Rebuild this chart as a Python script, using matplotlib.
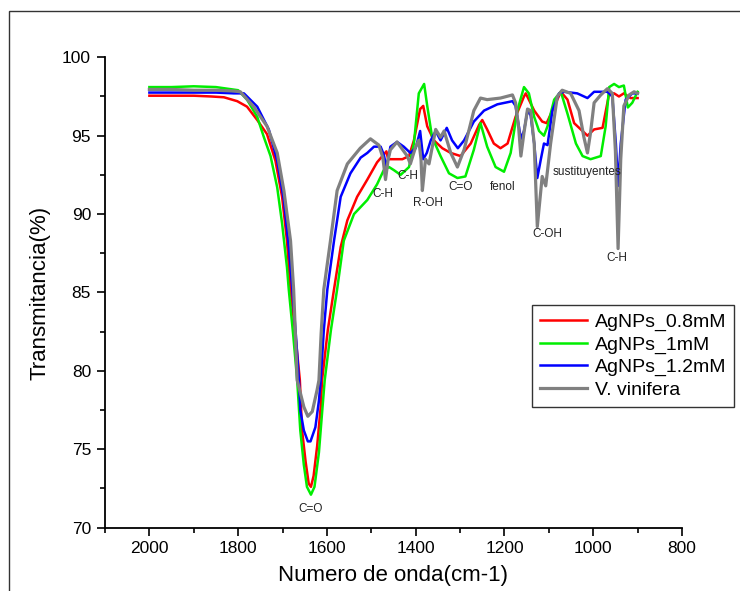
import matplotlib
matplotlib.use("Agg")
import matplotlib.pyplot as plt
from matplotlib.patches import Rectangle
from matplotlib.ticker import MultipleLocator

plt.rcParams['font.family'] = ['Liberation Sans', 'DejaVu Sans']

# FTIR spectra: wavenumber (cm-1) and transmittance (%)
wn_08 = [2000, 1950, 1900, 1860, 1832, 1802, 1780, 1757, 1735, 1716, 1701, 1690,
         1682, 1671, 1661, 1656, 1648, 1641, 1636, 1630, 1622, 1614, 1611, 1598, 1584, 1569,
         1554, 1532, 1509, 1487, 1472, 1466, 1462, 1449, 1430, 1415, 1404, 1390,
         1383, 1374, 1359, 1340, 1321, 1299, 1276, 1257, 1250, 1239, 1224, 1209,
         1193, 1175, 1156, 1152, 1133, 1115, 1105, 1092, 1073, 1058, 1043, 1028,
         1013, 998, 979, 964, 953, 942, 931, 916, 900]
t_08 = [97.55, 97.55, 97.55, 97.5, 97.45, 97.2, 96.85, 96.0, 95.1, 93.4, 91.1, 88.3,
        85.2, 82.3, 79.4, 76.2, 74.2, 72.8, 72.6, 73.3, 75.2, 77.7, 79.4, 82.6, 85.2, 87.9,
        89.6, 91.1, 92.2, 93.3, 93.8, 94.0, 93.5, 93.5, 93.5, 93.7, 94.7, 96.7,
        96.9, 95.6, 94.7, 94.2, 93.9, 93.7, 94.5, 95.7, 96.0, 95.4, 94.5, 94.2,
        94.5, 96.2, 97.5, 97.7, 96.6, 95.9, 95.8, 96.6, 97.8, 97.3, 95.8, 95.4,
        95.0, 95.4, 95.5, 97.7, 97.7, 97.5, 97.7, 97.4, 97.4]

wn_1 = [2000, 1950, 1900, 1850, 1800, 1780, 1757, 1742, 1727, 1712, 1701, 1690,
        1686, 1676, 1667, 1660, 1652, 1645, 1636, 1628, 1618, 1611, 1605, 1591, 1577, 1562,
        1539, 1509, 1487, 1472, 1460, 1449, 1434, 1415, 1404, 1393, 1381, 1374,
        1363, 1344, 1325, 1306, 1288, 1269, 1254, 1239, 1220, 1201, 1186, 1171,
        1156, 1145, 1133, 1122, 1111, 1103, 1088, 1073, 1058, 1039, 1024, 1006,
        983, 972, 964, 953, 942, 931, 922, 912, 900]
t_1 = [98.1, 98.1, 98.15, 98.1, 97.9, 97.3, 96.2, 94.9, 93.7, 91.7, 89.4, 86.6,
       85.2, 82.3, 79.4, 76.2, 74.0, 72.6, 72.1, 72.6, 74.8, 77.3, 79.4, 82.6, 85.2, 88.3,
       90.0, 90.9, 91.9, 92.8, 93.0, 92.8, 92.5, 93.0, 94.5, 97.7, 98.3, 96.9,
       94.9, 93.7, 92.6, 92.3, 92.4, 94.1, 95.8, 94.3, 93.0, 92.7, 93.9, 96.6,
       98.1, 97.7, 96.2, 95.3, 95.0, 95.6, 97.3, 97.8, 96.4, 94.5, 93.7, 93.5,
       93.7, 95.6, 98.1, 98.3, 98.1, 98.2, 96.8, 97.1, 97.8]

wn_12 = [2000, 1950, 1900, 1850, 1810, 1787, 1757, 1731, 1712, 1697, 1686, 1678,
         1670, 1663, 1660, 1652, 1643, 1637, 1626, 1618, 1614, 1607, 1599, 1584, 1569, 1547,
         1524, 1509, 1494, 1479, 1472, 1466, 1460, 1457, 1442, 1427, 1412, 1400,
         1390, 1383, 1375, 1366, 1355, 1344, 1330, 1318, 1305, 1291, 1269, 1246,
         1216, 1182, 1175, 1163, 1156, 1148, 1141, 1133, 1126, 1118, 1111, 1103,
         1092, 1077, 1066, 1036, 1013, 998, 968, 957, 949, 944, 938, 927,
         912, 900]
t_12 = [97.75, 97.75, 97.75, 97.75, 97.7, 97.7, 96.85, 95.4, 93.4, 90.9, 87.9, 85.2,
        82.3, 79.4, 77.5, 76.2, 75.5, 75.5, 76.4, 78.1, 79.4, 82.6, 85.2, 88.3, 91.1, 92.6,
        93.6, 93.9, 94.3, 94.3, 93.8, 93.0, 93.8, 94.3, 94.6, 94.3, 93.9, 94.2,
        95.3, 93.5, 93.9, 94.7, 95.3, 94.7, 95.5, 94.7, 94.2, 94.7, 95.9, 96.6,
        97.0, 97.2, 96.9, 94.8, 95.3, 96.6, 96.3, 94.5, 92.3, 93.5, 94.5, 94.4,
        96.6, 97.7, 97.8, 97.7, 97.4, 97.8, 97.8, 97.5, 94.5, 91.8, 94.5, 97.3,
        97.7, 97.7]

wn_vv = [2000, 1950, 1900, 1850, 1810, 1795, 1765, 1735, 1712, 1697, 1682, 1675,
         1671, 1667, 1652, 1643, 1633, 1622, 1618, 1613, 1607, 1592, 1577, 1554, 1525, 1502,
         1483, 1474, 1468, 1462, 1457, 1442, 1419, 1412, 1400, 1393, 1388, 1385,
         1381, 1378, 1370, 1355, 1344, 1336, 1321, 1306, 1291, 1269, 1254, 1239,
         1209, 1182, 1175, 1168, 1163, 1156, 1148, 1141, 1133, 1126, 1115, 1107,
         1096, 1081, 1070, 1051, 1032, 1021, 1013, 1006, 998, 983, 968, 957,
         950, 944, 938, 931, 919, 908, 900]
t_vv = [97.95, 97.95, 97.9, 97.9, 97.85, 97.8, 96.85, 95.6, 93.9, 91.5, 88.3, 85.2,
        82.3, 79.4, 77.7, 77.1, 77.4, 78.8, 79.4, 82.4, 85.2, 88.3, 91.5, 93.2, 94.2, 94.8,
        94.4, 93.6, 92.2, 93.5, 94.1, 94.6, 93.7, 93.2, 94.3, 94.7, 93.5, 91.5,
        92.6, 93.5, 93.2, 95.4, 94.9, 95.3, 93.9, 93.0, 94.1, 96.6, 97.4, 97.3,
        97.4, 97.6, 97.1, 95.5, 93.7, 95.2, 96.7, 96.6, 94.5, 89.2, 92.4, 91.8,
        94.5, 97.5, 97.9, 97.7, 96.6, 94.9, 93.9, 95.2, 97.1, 97.6, 98.0, 97.7,
        94.0, 87.8, 93.5, 96.9, 97.6, 97.8, 97.7]

series_labels = ['AgNPs_0.8mM', 'AgNPs_1mM', 'AgNPs_1.2mM', 'V. vinifera']

# band assignments: (text, wavenumber, transmittance)
band_labels = ['C-H', 'C-H', 'R-OH', 'C=O', 'fenol', 'C-OH', 'sustituyentes', 'C-H', 'C=O']
band_wn = [1473, 1417, 1372, 1300, 1205, 1103, 1013, 946, 1637]
band_t = [91.3, 92.4, 90.7, 91.7, 91.75, 88.7, 92.7, 87.2, 71.2]

W, H = 740, 591
fig = plt.figure(figsize=(W / 100, H / 100), dpi=100)
ax = fig.add_axes([105 / W, 1 - 527.6 / H, (682 - 105) / W, (527.6 - 57.3) / H])

colors = ['#ff0000', '#00ee00', '#0000ff', '#808080']
widths = [1.8, 1.8, 1.8, 2.3]
data = [(wn_08, t_08), (wn_1, t_1), (wn_12, t_12), (wn_vv, t_vv)]
for (x, y), c, lw, lab in zip(data, colors, widths, series_labels):
    assert len(x) == len(y)
    ax.plot(x, y, color=c, lw=lw, label=lab, solid_joinstyle='round')

for txt, x, y in zip(band_labels, band_wn, band_t):
    ax.text(x, y, txt, fontsize=8.5, ha='center', va='center', color='#222222')

ax.set_xlim(2100, 800)
ax.set_ylim(70, 100)
ax.xaxis.set_major_locator(MultipleLocator(200))
ax.xaxis.set_minor_locator(MultipleLocator(100))
ax.yaxis.set_major_locator(MultipleLocator(5))
ax.yaxis.set_minor_locator(MultipleLocator(2.5))
for s in ['top', 'right']:
    ax.spines[s].set_visible(False)
for s in ['left', 'bottom']:
    ax.spines[s].set_linewidth(1.3)
ax.tick_params(which='major', direction='out', length=6, width=1.2, labelsize=12.5, pad=4)
ax.tick_params(which='minor', direction='out', length=3.6, width=1.2)

ax.set_xlabel('Numero de onda(cm-1)', fontsize=16, labelpad=6)
ax.set_ylabel('Transmitancia(%)', fontsize=16, labelpad=8)

leg = ax.legend(loc='upper left', bbox_to_anchor=(532 / W, 1 - 305 / H),
                bbox_transform=fig.transFigure, fontsize=14, frameon=True,
                fancybox=False, edgecolor='black', handlelength=2.4,
                handletextpad=0.4, labelspacing=0.25, borderpad=0.42,
                borderaxespad=0)
leg.get_frame().set_linewidth(1.0)

# outer border of the figure
fig.patches.append(Rectangle((9 / W, -0.05), 1.2, 1 - 11 / H + 0.05,
                             transform=fig.transFigure, fill=False,
                             edgecolor='#333333', lw=1.0))

fig.savefig('out.png', dpi=100)
